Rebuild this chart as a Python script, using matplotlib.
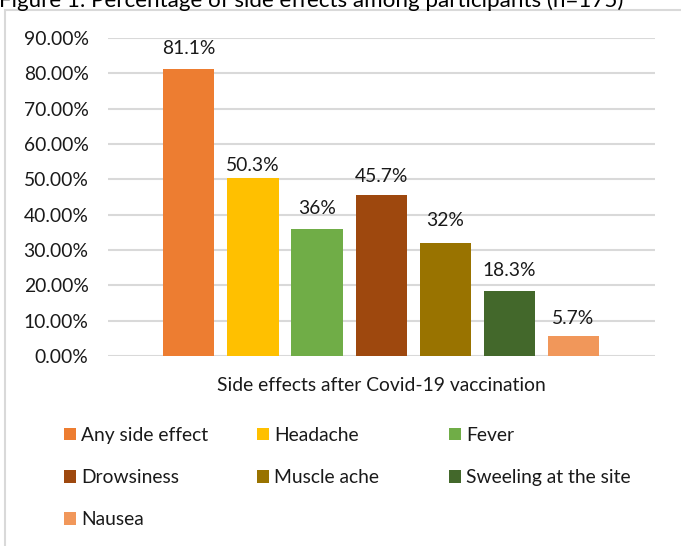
import matplotlib
matplotlib.use("Agg")
import matplotlib.pyplot as plt
from matplotlib.patches import Patch, Rectangle

# Data: share of participants reporting each side effect (percent)
categories = ["Any side effect", "Headache", "Fever", "Drowsiness",
              "Muscle ache", "Sweeling at the site", "Nausea"]
values = [81.1, 50.3, 36, 45.7, 32, 18.3, 5.7]
colors = ["#ED7D31", "#FFC000", "#70AD47", "#9E480E",
          "#997300", "#43682B", "#F1975A"]
yticks = [0, 10, 20, 30, 40, 50, 60, 70, 80, 90]
xlabel = "Side effects after Covid-19 vaccination"
title = "Figure 1: Percentage of side effects among participants (n=175)"

# Gap (pixels) between each bar top and its value label
label_gap_px = [15, 7, 15, 13, 17, 15, 12]

W, H, DPI = 681, 546, 100
FS = 13.9
PX = 72 / DPI
plt.rcParams["font.family"] = ["Lato", "DejaVu Sans"]

fig = plt.figure(figsize=(W / DPI, H / DPI), dpi=DPI)
fig.patch.set_facecolor("white")

# Chart frame
fig.add_artist(Rectangle((5 / W, -0.1), 1.2, 1 - 10 / H + 0.1,
                         transform=fig.transFigure, fill=False,
                         edgecolor="#D9D9D9", linewidth=1.5))
# Caption above the frame
fig.text(-1 / W, 1 - 7 / H, title, fontsize=16.1, color="black",
         ha="left", va="baseline")

ax = fig.add_axes([108 / W, 1 - 356 / H, (655 - 108) / W, (356 - 38) / H])
x = list(range(len(values)))
ax.bar(x, values, width=0.8, color=colors, zorder=3)

for xi, v, g in zip(x, values, label_gap_px):
    ax.annotate(f"{v:g}%", (xi, v), xytext=(0, g * PX),
                textcoords="offset points", ha="center", va="baseline",
                fontsize=FS, color="#1a1a1a")

ax.set_ylim(0, 90)
ax.set_xlim(-1.26, len(values) - 1 + 1.27)
ax.set_yticks(yticks)
ax.set_yticklabels([f"{t:.2f}%" for t in yticks])
ax.set_xticks([])
ax.tick_params(axis="y", length=0, pad=14, labelsize=FS, labelcolor="#1a1a1a")
ax.grid(axis="y", color="#D9D9D9", linewidth=1.5, zorder=0)
for s in ax.spines.values():
    s.set_visible(False)
ax.set_xlabel(xlabel, fontsize=FS, color="#1a1a1a", labelpad=15)

# Legend laid out in rows of three
handles = [Patch(facecolor=c, edgecolor="none") for c in colors]
col_x = [64, 257, 449]
for ci, cx in enumerate(col_x):
    idx = list(range(ci, len(categories), 3))
    fig.legend([handles[i] for i in idx], [categories[i] for i in idx],
               loc="upper left", bbox_to_anchor=(cx / W, 1 - 427 / H),
               frameon=False, fontsize=FS, handlelength=0.62,
               handleheight=0.62, handletextpad=0.26, labelspacing=1.3,
               borderaxespad=0, borderpad=0, labelcolor="#1a1a1a")

fig.savefig("out.png", dpi=DPI, facecolor="white")
